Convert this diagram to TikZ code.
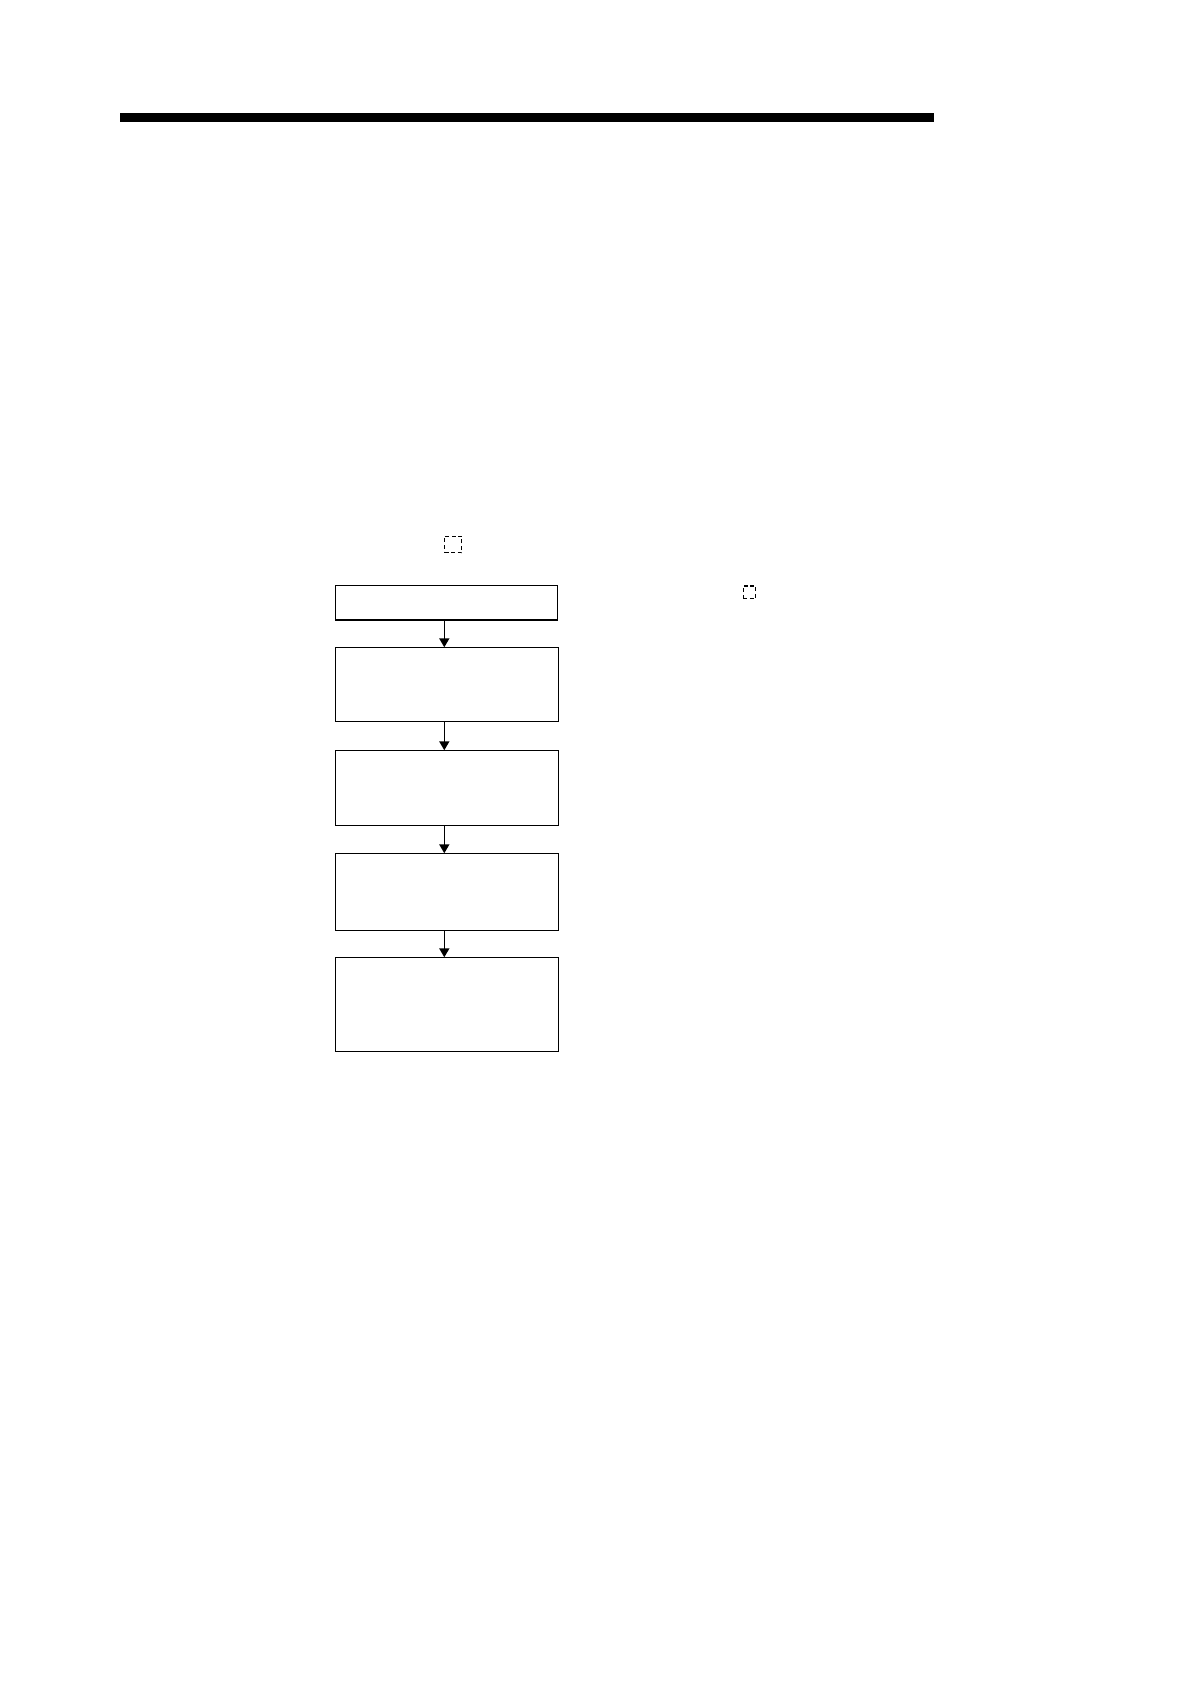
\documentclass[tikz,border=0pt]{standalone}
\usetikzlibrary{arrows.meta}
\begin{document}
\begin{tikzpicture}[x=0.5pt,y=-0.5pt,
  box/.style={draw,line width=0.8pt,rectangle,inner sep=0pt,outer sep=0pt},
  arr/.style={line width=0.8pt,-{Triangle[length=4.5pt,width=5pt]}},
  dbox/.style={draw,line width=0.6pt,dash pattern=on 2pt off 1.3pt,inner sep=0pt}]
\useasboundingbox (0,0) rectangle (1190,1684);
\fill (120,113.3) rectangle (934.3,122.3);
\node[dbox,minimum width=8.5pt,minimum height=8.3pt] (d1) at (453,544.5) {};
\node[dbox,minimum width=6.2pt,minimum height=6.2pt] (d2) at (749.5,592.2) {};
\node[box,minimum width=111pt,minimum height=17.3pt] (b1) at (446.3,602.7) {};
\node[box,minimum width=111.5pt,minimum height=37pt] (b2) at (446.8,684.3) {};
\node[box,minimum width=111.5pt,minimum height=37.5pt] (b3) at (446.8,787.8) {};
\node[box,minimum width=111.5pt,minimum height=38.5pt] (b4) at (446.8,891.8) {};
\node[box,minimum width=111.5pt,minimum height=47pt] (b5) at (446.8,1004.3) {};
\coordinate (ax) at ([xshift=-1pt]b1.south);
\draw[arr] (ax) -- (b2.north -| ax);
\draw[arr] (b2.south -| ax) -- (b3.north -| ax);
\draw[arr] (b3.south -| ax) -- (b4.north -| ax);
\draw[arr] (b4.south -| ax) -- (b5.north -| ax);
\end{tikzpicture}
\end{document}
